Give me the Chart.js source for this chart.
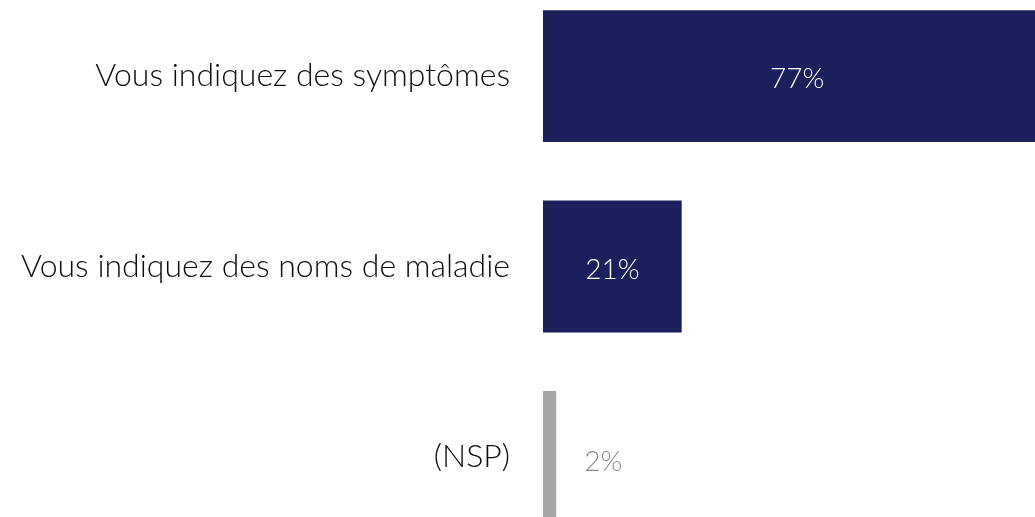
<!DOCTYPE html>
<html>
<head>
<meta charset="utf-8">
<script src="https://cdn.jsdelivr.net/npm/chart.js@4"></script>
<style>
  html, body { margin: 0; padding: 0; background: #fff; overflow: hidden; }
  body { width: 1035px; height: 517px; position: relative; }
  #wrap { position: absolute; left: 0; top: -19px; width: 1035px; height: 571px; }
</style>
</head>
<body>
<div id="wrap"><canvas id="chart"></canvas></div>
<script>
'use strict';

// categories + values (percent)
var categories = ['Vous indiquez des symptômes', 'Vous indiquez des noms de maladie', '(NSP)'];
var values = [77, 21, 2];
var valueLabels = ['77%', '21%', '2%'];

var NAVY = '#1b1f5c';
var GREY = '#a6a6a6';
var FONT = "Lato, 'Open Sans', sans-serif";

/* draws value labels: inside the bar (white) when it fits, else right of the bar (grey) */
var valueLabelPlugin = {
    id: 'valueLabels',
    afterDatasetsDraw: function (chart) {
        var ctx = chart.ctx;
        var meta = chart.getDatasetMeta(0);
        ctx.save();
        ctx.font = '300 28px ' + FONT;
        ctx.textBaseline = 'middle';
        meta.data.forEach(function (bar, i) {
            var txt = valueLabels[i];
            var w = ctx.measureText(txt).width;
            var len = bar.x - bar.base;
            if (len > w + 20) {
                ctx.fillStyle = '#ffffff';
                ctx.textAlign = 'center';
                ctx.fillText(txt, (bar.base + bar.x) / 2, bar.y + 3);
            } else {
                ctx.fillStyle = '#8c8c8c';
                ctx.textAlign = 'left';
                ctx.fillText(txt, bar.x + 28, bar.y + 5);
            }
        });
        ctx.restore();
    }
};

new Chart(document.getElementById('chart').getContext('2d'), {
    type: 'bar',
    data: {
        labels: categories,
        datasets: [{
            data: values,
            backgroundColor: [NAVY, NAVY, GREY],
            borderWidth: 0,
            barPercentage: 0.693,
            categoryPercentage: 1,
        }],
    },
    options: {
        indexAxis: 'y',
        responsive: true,
        maintainAspectRatio: false,
        animation: false,
        layout: { padding: 0 },
        plugins: {
            legend: { display: false },
            tooltip: { enabled: false },
        },
        scales: {
            x: { display: false, min: 0, max: 74.5 },
            y: {
                grid: { display: false, drawTicks: false },
                border: { display: false },
                ticks: {
                    color: '#0d0d0d',
                    padding: 33,
                    font: { family: FONT, size: 32, weight: 300 },
                },
                afterFit: function (scale) {
                    scale.width = 543;
                    scale.paddingTop = 0;
                    scale.paddingBottom = 0;
                },
            },
        },
    },
    plugins: [valueLabelPlugin],
});
</script>
</body>
</html>
